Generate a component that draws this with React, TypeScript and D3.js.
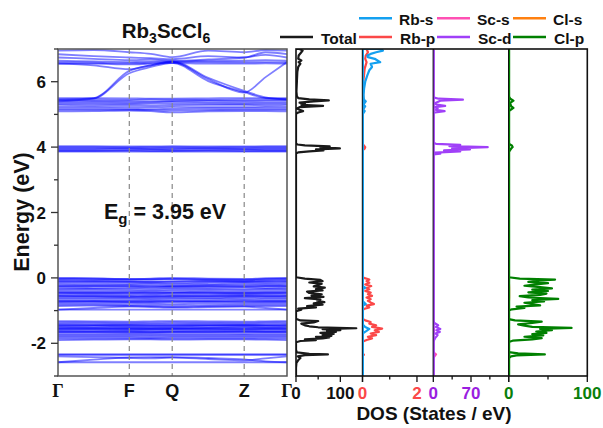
import React from 'react';
import * as d3 from 'd3';

// ---------- DATA ----------
const kPath = [0, 0.356, 0.713, 0.928, 1.142, 1.502, 1.862, 2.076, 2.29];
const kNodes = [0, 0.713, 1.142, 1.862, 2.29];
const kLabels = ['Γ', 'F', 'Q', 'Z', 'Γ'];

const upperBands: number[][] = [
  [6.95, 6.97, 6.9, 6.85, 6.75, 6.95, 6.9, 6.97, 6.95],
  [6.84, 6.78, 6.74, 6.72, 6.69, 6.78, 6.74, 6.9, 6.84],
  [6.74, 6.7, 6.66, 6.68, 6.64, 6.68, 6.74, 6.82, 6.74],
  [6.64, 6.62, 6.6, 6.62, 6.62, 6.64, 6.64, 6.66, 6.64],
  [6.59, 6.58, 6.56, 6.58, 6.6, 6.6, 6.59, 6.6, 6.59],
  [6.55, 6.55, 6.53, 6.55, 6.57, 6.55, 6.55, 6.56, 6.55],
  [5.45, 5.5, 6.33, 6.5, 6.6, 6.08, 5.67, 6.14, 6.6],
  [5.40, 5.48, 6.26, 6.45, 6.58, 6.02, 5.68, 5.5, 5.47],
  [6.55, 6.5, 6.38, 6.5, 6.62, 6.12, 5.72, 5.52, 5.45],
  [5.50, 5.50, 5.49, 5.48, 5.48, 5.49, 5.50, 5.50, 5.50],
  [5.45, 5.45, 5.44, 5.46, 5.45, 5.44, 5.45, 5.45, 5.45],
  [5.42, 5.41, 5.40, 5.40, 5.41, 5.42, 5.41, 5.42, 5.42],
  [5.37, 5.37, 5.36, 5.37, 5.38, 5.37, 5.36, 5.37, 5.37],
  [5.33, 5.33, 5.32, 5.33, 5.33, 5.33, 5.32, 5.33, 5.33],
  [5.29, 5.28, 5.28, 5.27, 5.28, 5.29, 5.29, 5.28, 5.29],
  [5.23, 5.23, 5.22, 5.22, 5.23, 5.22, 5.22, 5.23, 5.23],
  [5.18, 5.18, 5.17, 5.16, 5.17, 5.18, 5.18, 5.18, 5.18],
  [5.14, 5.14, 5.14, 5.13, 5.12, 5.13, 5.14, 5.14, 5.14],
  [5.09, 5.10, 5.12, 5.10, 5.06, 5.09, 5.10, 5.10, 5.09],
];

const lowConductionBands: number[][] = [
  [4.03, 4.03, 4.02, 4.02, 4.03, 4.02, 4.02, 4.03, 4.03],
  [4.00, 4.00, 3.99, 4.00, 4.00, 3.99, 4.00, 4.00, 4.00],
  [3.97, 3.97, 3.97, 3.96, 3.97, 3.97, 3.96, 3.97, 3.97],
  [3.94, 3.94, 3.95, 3.94, 3.94, 3.95, 3.94, 3.94, 3.94],
  [3.91, 3.91, 3.91, 3.92, 3.91, 3.91, 3.92, 3.91, 3.91],
  [3.88, 3.88, 3.89, 3.88, 3.88, 3.89, 3.88, 3.88, 3.88],
  [3.86, 3.86, 3.86, 3.86, 3.86, 3.86, 3.86, 3.86, 3.86],
];

const topValenceBands: number[][] = [
  [0.00, -0.01, -0.03, -0.02, 0.00, -0.02, -0.03, -0.01, 0.00],
  [-0.02, -0.03, -0.04, -0.04, -0.03, -0.04, -0.05, -0.03, -0.02],
  [-0.04, -0.05, -0.06, -0.05, -0.04, -0.06, -0.07, -0.05, -0.04],
  [-0.08, -0.09, -0.10, -0.11, -0.10, -0.09, -0.10, -0.09, -0.08],
  [-0.10, -0.11, -0.12, -0.12, -0.12, -0.11, -0.12, -0.11, -0.10],
  [-0.13, -0.13, -0.14, -0.15, -0.16, -0.14, -0.13, -0.14, -0.13],
  [-0.17, -0.18, -0.19, -0.18, -0.20, -0.19, -0.17, -0.18, -0.17],
  [-0.21, -0.22, -0.22, -0.23, -0.24, -0.22, -0.21, -0.22, -0.21],
  [-0.25, -0.25, -0.25, -0.26, -0.26, -0.25, -0.25, -0.25, -0.25],
  [-0.26, -0.26, -0.27, -0.28, -0.27, -0.26, -0.27, -0.26, -0.26],
  [-0.30, -0.31, -0.31, -0.32, -0.31, -0.30, -0.30, -0.31, -0.30],
  [-0.34, -0.34, -0.35, -0.36, -0.35, -0.34, -0.35, -0.34, -0.34],
  [-0.38, -0.38, -0.39, -0.40, -0.39, -0.38, -0.38, -0.38, -0.38],
  [-0.42, -0.43, -0.43, -0.44, -0.44, -0.42, -0.43, -0.43, -0.42],
  [-0.45, -0.45, -0.46, -0.46, -0.45, -0.45, -0.46, -0.45, -0.45],
  [-0.46, -0.47, -0.47, -0.48, -0.47, -0.46, -0.47, -0.47, -0.46],
  [-0.50, -0.50, -0.51, -0.52, -0.51, -0.50, -0.50, -0.50, -0.50],
  [-0.54, -0.54, -0.55, -0.56, -0.55, -0.54, -0.53, -0.54, -0.54],
  [-0.55, -0.56, -0.57, -0.57, -0.56, -0.56, -0.55, -0.56, -0.55],
  [-0.58, -0.58, -0.59, -0.60, -0.59, -0.58, -0.57, -0.58, -0.58],
  [-0.62, -0.62, -0.62, -0.63, -0.62, -0.62, -0.60, -0.62, -0.62],
  [-0.66, -0.66, -0.66, -0.67, -0.66, -0.65, -0.65, -0.66, -0.66],
  [-0.70, -0.70, -0.70, -0.71, -0.70, -0.70, -0.69, -0.70, -0.70],
  [-0.72, -0.72, -0.73, -0.73, -0.72, -0.72, -0.71, -0.72, -0.72],
  [-0.74, -0.73, -0.74, -0.75, -0.74, -0.73, -0.74, -0.74, -0.74],
  [-0.78, -0.78, -0.78, -0.79, -0.80, -0.78, -0.78, -0.78, -0.78],
  [-0.82, -0.82, -0.83, -0.84, -0.85, -0.83, -0.82, -0.82, -0.82],
  [-0.86, -0.85, -0.86, -0.87, -0.89, -0.87, -0.86, -0.86, -0.86],
  [-0.97, -0.92, -0.88, -0.89, -0.91, -0.89, -0.88, -0.92, -0.97],
  [-0.97, -0.97, -0.97, -0.97, -0.97, -0.97, -0.97, -0.97, -0.97],
];

const midValenceBands: number[][] = [
  [-1.32, -1.33, -1.34, -1.33, -1.32, -1.33, -1.34, -1.33, -1.32],
  [-1.36, -1.36, -1.37, -1.37, -1.36, -1.37, -1.37, -1.36, -1.36],
  [-1.40, -1.40, -1.41, -1.41, -1.40, -1.40, -1.41, -1.40, -1.40],
  [-1.43, -1.44, -1.44, -1.45, -1.44, -1.44, -1.44, -1.44, -1.43],
  [-1.45, -1.45, -1.46, -1.46, -1.46, -1.45, -1.45, -1.46, -1.45],
  [-1.47, -1.47, -1.48, -1.48, -1.48, -1.47, -1.47, -1.47, -1.47],
  [-1.50, -1.51, -1.51, -1.52, -1.51, -1.51, -1.50, -1.51, -1.50],
  [-1.53, -1.53, -1.54, -1.54, -1.54, -1.53, -1.53, -1.53, -1.53],
  [-1.55, -1.55, -1.55, -1.56, -1.55, -1.55, -1.56, -1.55, -1.55],
  [-1.56, -1.56, -1.57, -1.57, -1.56, -1.56, -1.57, -1.56, -1.56],
  [-1.59, -1.59, -1.60, -1.60, -1.59, -1.59, -1.60, -1.59, -1.59],
  [-1.62, -1.63, -1.63, -1.64, -1.63, -1.62, -1.63, -1.63, -1.62],
  [-1.65, -1.65, -1.65, -1.66, -1.65, -1.65, -1.65, -1.65, -1.65],
  [-1.66, -1.66, -1.67, -1.67, -1.66, -1.66, -1.66, -1.66, -1.66],
  [-1.70, -1.70, -1.70, -1.71, -1.70, -1.70, -1.71, -1.70, -1.70],
  [-1.74, -1.74, -1.74, -1.75, -1.74, -1.74, -1.74, -1.74, -1.74],
  [-1.78, -1.78, -1.78, -1.79, -1.78, -1.78, -1.78, -1.78, -1.78],
  [-1.82, -1.82, -1.82, -1.83, -1.82, -1.82, -1.82, -1.82, -1.82],
  [-1.86, -1.86, -1.86, -1.86, -1.86, -1.86, -1.86, -1.86, -1.86],
  [-1.90, -1.89, -1.88, -1.88, -1.89, -1.88, -1.88, -1.89, -1.90],
];

const lowValenceBands: number[][] = [
  [-2.34, -2.34, -2.34, -2.34, -2.34, -2.34, -2.34, -2.34, -2.34],
  [-2.35, -2.35, -2.35, -2.35, -2.35, -2.35, -2.35, -2.35, -2.35],
  [-2.58, -2.50, -2.43, -2.42, -2.42, -2.45, -2.49, -2.55, -2.58],
  [-2.40, -2.42, -2.45, -2.46, -2.44, -2.48, -2.52, -2.46, -2.40],
  [-2.58, -2.58, -2.58, -2.58, -2.58, -2.58, -2.58, -2.58, -2.58],
];

const energyTicks = [-3, -2, -1, 0, 1, 2, 3, 4, 5, 6, 7];
const energyLabels = [-2, 0, 2, 4, 6];

// DOS series: [energy (eV), DOS]
const dosTotal: [number, number][] = [
  [-2.75, 0], [-2.6, 1], [-2.5, 6], [-2.45, 10], [-2.4, 4], [-2.36, 20], [-2.34, 72], [-2.32, 30], [-2.28, 2], [-2.2, 0],
  [-1.97, 0], [-1.93, 10], [-1.9, 45], [-1.88, 20], [-1.85, 60], [-1.82, 75], [-1.8, 45], [-1.77, 80], [-1.74, 60],
  [-1.71, 85], [-1.68, 55], [-1.65, 90], [-1.62, 70], [-1.6, 100], [-1.57, 60], [-1.54, 136], [-1.51, 50], [-1.48, 30],
  [-1.45, 20], [-1.4, 12], [-1.36, 40], [-1.32, 50], [-1.3, 10], [-1.25, 0],
  [-1.02, 0], [-0.97, 12], [-0.94, 5], [-0.9, 45], [-0.86, 25], [-0.82, 60], [-0.78, 40], [-0.74, 64], [-0.7, 48],
  [-0.66, 55], [-0.62, 20], [-0.58, 62], [-0.54, 35], [-0.5, 58], [-0.46, 30], [-0.42, 25], [-0.38, 60], [-0.34, 45],
  [-0.3, 65], [-0.26, 40], [-0.22, 50], [-0.18, 58], [-0.14, 30], [-0.1, 60], [-0.06, 55], [-0.02, 20], [0.02, 0],
  [3.8, 0], [3.84, 5], [3.87, 30], [3.9, 62], [3.93, 45], [3.96, 99], [3.99, 55], [4.02, 76], [4.05, 20], [4.08, 3], [4.12, 0],
  [5.02, 0], [5.06, 5], [5.1, 16], [5.14, 8], [5.18, 2], [5.22, 8], [5.26, 61], [5.29, 12], [5.33, 20], [5.36, 8],
  [5.4, 40], [5.43, 74], [5.46, 30], [5.5, 5], [5.55, 2], [5.7, 1], [6.0, 2], [6.3, 3], [6.45, 5], [6.55, 10],
  [6.6, 6], [6.65, 12], [6.7, 5], [6.8, 6], [6.9, 12], [6.95, 15], [7.0, 8],
];
const dosRbS: [number, number][] = [
  [-1.7, 0], [-1.62, 0.15], [-1.56, 0.25], [-1.5, 0.1], [-1.42, 0],
  [-0.85, 0], [-0.8, 0.12], [-0.75, 0.05], [-0.7, 0], [-0.35, 0], [-0.3, 0.1], [-0.25, 0],
  [5.0, 0], [5.1, 0.08], [5.15, 0.02], [5.25, 0.1], [5.3, 0.03], [5.4, 0.12], [5.45, 0.05], [5.6, 0.04], [5.8, 0.06],
  [6.0, 0.1], [6.2, 0.18], [6.35, 0.25], [6.45, 0.35], [6.55, 0.3], [6.6, 0.65], [6.65, 0.55], [6.7, 0.45],
  [6.75, 0.2], [6.8, 0.18], [6.85, 0.3], [6.9, 0.5], [6.95, 0.75], [7.0, 0.7],
];
const dosRbP: [number, number][] = [
  [-2.4, 0], [-2.35, 0.05], [-2.3, 0],
  [-1.95, 0], [-1.9, 0.15], [-1.85, 0.35], [-1.8, 0.2], [-1.75, 0.5], [-1.7, 0.3], [-1.65, 0.6], [-1.6, 0.45],
  [-1.55, 0.72], [-1.5, 0.35], [-1.45, 0.5], [-1.4, 0.25], [-1.35, 0.3], [-1.3, 0.1], [-1.25, 0],
  [-1.0, 0], [-0.95, 0.05], [-0.9, 0.25], [-0.85, 0.15], [-0.8, 0.42], [-0.75, 0.3], [-0.7, 0.2], [-0.65, 0.3],
  [-0.6, 0.15], [-0.55, 0.35], [-0.5, 0.2], [-0.45, 0.3], [-0.4, 0.1], [-0.35, 0.25], [-0.3, 0.15], [-0.25, 0.32],
  [-0.2, 0.1], [-0.15, 0.25], [-0.1, 0.15], [-0.05, 0.25], [0, 0.05], [0.05, 0],
  [3.9, 0], [3.95, 0.08], [4.0, 0.1], [4.05, 0.05], [4.1, 0],
  [5.1, 0], [5.2, 0.06], [5.3, 0.04], [5.4, 0.08], [5.5, 0.02], [6.0, 0.03], [6.4, 0.08], [6.6, 0.15],
  [6.7, 0.1], [6.8, 0.12], [6.9, 0.2], [7.0, 0.15],
];
const dosScS: [number, number][] = [
  [-2.45, 0], [-2.38, 3], [-2.34, 5], [-2.3, 2], [-2.25, 0],
  [-1.7, 0], [-1.6, 2], [-1.5, 0],
];
const dosScD: [number, number][] = [
  [-1.95, 0], [-1.85, 3], [-1.75, 8], [-1.7, 4], [-1.65, 12], [-1.6, 6], [-1.56, 13], [-1.5, 5], [-1.45, 9], [-1.38, 2], [-1.3, 0],
  [3.78, 0], [3.8, 13], [3.83, 3], [3.87, 50], [3.9, 20], [3.93, 68], [3.96, 35], [4.0, 101], [4.03, 30], [4.07, 50], [4.1, 5], [4.13, 0],
  [5.05, 0], [5.1, 21], [5.14, 5], [5.18, 8], [5.22, 3], [5.26, 22], [5.3, 6], [5.34, 3], [5.38, 8], [5.42, 13], [5.45, 55], [5.48, 10], [5.52, 0],
];
const dosClS: [number, number][] = [
  [-2.4, 0], [-2.35, 0.6], [-2.3, 0],
  [-0.9, 0], [-0.6, 0.5], [-0.3, 0.5], [0, 0],
];
const dosClP: [number, number][] = [
  [-2.45, 0], [-2.4, 3], [-2.37, 10], [-2.34, 46], [-2.31, 12], [-2.27, 0],
  [-1.96, 0], [-1.92, 5], [-1.88, 30], [-1.84, 42], [-1.8, 20], [-1.76, 44], [-1.72, 30], [-1.68, 48], [-1.64, 35],
  [-1.6, 55], [-1.56, 40], [-1.53, 80], [-1.5, 30], [-1.46, 20], [-1.42, 12], [-1.38, 30], [-1.34, 42], [-1.3, 8], [-1.26, 0],
  [-1.0, 0], [-0.96, 4], [-0.92, 20], [-0.88, 10], [-0.84, 40], [-0.8, 30], [-0.76, 20], [-0.72, 45], [-0.68, 30],
  [-0.64, 63], [-0.6, 25], [-0.56, 14], [-0.52, 40], [-0.48, 48], [-0.44, 25], [-0.4, 50], [-0.36, 30], [-0.32, 55],
  [-0.28, 40], [-0.24, 20], [-0.2, 35], [-0.16, 50], [-0.12, 25], [-0.08, 40], [-0.05, 59], [-0.02, 14], [0.02, 0],
  [3.85, 0], [3.95, 3], [4.0, 5], [4.05, 4], [4.1, 0],
  [5.1, 0], [5.15, 3], [5.2, 6], [5.25, 3], [5.35, 2], [5.42, 6], [5.48, 2], [5.55, 0],
];

const totalTicks = [0, 50, 100, 150];
const totalLabels = [0, 100];
const rbTicks = [0, 1, 2];
const rbLabels = [0, 2];
const scTicks = [0, 35, 70, 105, 140];
const scLabels = [0, 70];
const clTicks = [0, 50, 100];
const clLabels = [0, 100];

// ---------- STYLE ----------
const FONT = '"Liberation Sans", Arial, Helvetica, sans-serif';
const C = {
  total: '#1a1a1a',
  rbs: '#14a0f0',
  rbp: '#fb4848',
  scs: '#ff50b4',
  scd: '#a040f8',
  cls: '#ff8010',
  clp: '#008000',
  scLabel: '#9a1ee0',
  clLabel: '#0a7f0a',
};

export default function App() {
  const top = 49;
  const bottom = 376;
  const yE = d3.scaleLinear().domain([-3, 7]).range([bottom, top]);
  const bx0 = 58;
  const bx1 = 287;
  const xK = d3.scaleLinear().domain([0, 2.29]).range([bx0, bx1]);

  const bandLine = d3
    .line<number>()
    .x((_, i) => xK(kPath[i]))
    .y((d) => yE(d))
    .curve(d3.curveMonotoneX);

  const allBands = [...upperBands, ...lowConductionBands, ...topValenceBands, ...midValenceBands, ...lowValenceBands];

  const panels = [
    { key: 'tot', x0: 296, x1: 362.5, domain: [0, 150], ticks: totalTicks, labels: totalLabels, labelColor: '#111',
      series: [{ d: dosTotal, c: C.total }] },
    { key: 'rb', x0: 362.5, x1: 433.3, domain: [0, 2.6], ticks: rbTicks, labels: rbLabels, labelColor: C.rbp,
      series: [{ d: dosRbP, c: C.rbp }, { d: dosRbS, c: C.rbs }] },
    { key: 'sc', x0: 433.3, x1: 508.7, domain: [0, 140], ticks: scTicks, labels: scLabels, labelColor: C.scLabel,
      series: [{ d: dosScS, c: C.scs }, { d: dosScD, c: C.scd }] },
    { key: 'cl', x0: 508.7, x1: 587.3, domain: [0, 100], ticks: clTicks, labels: clLabels, labelColor: C.clLabel,
      series: [{ d: dosClS, c: C.cls }, { d: dosClP, c: C.clp }] },
  ];

  const legendRow1 = [
    { name: 'Rb-s', c: C.rbs, x: 359 },
    { name: 'Sc-s', c: C.scs, x: 437 },
    { name: 'Cl-s', c: C.cls, x: 513 },
  ];
  const legendRow2 = [
    { name: 'Total', c: C.total, x: 280 },
    { name: 'Rb-p', c: C.rbp, x: 359 },
    { name: 'Sc-d', c: C.scd, x: 437 },
    { name: 'Cl-p', c: C.clp, x: 513 },
  ];

  return (
    <svg width={603} height={428} style={{ position: 'absolute', left: 0, top: 0, background: '#fff' }}
      fontFamily={FONT} fontWeight="bold">
      <defs>
        <clipPath id="bandClip">
          <rect x={bx0} y={top} width={bx1 - bx0} height={bottom - top} />
        </clipPath>
        {panels.map((p) => (
          <clipPath id={`clip-${p.key}`} key={p.key}>
            <rect x={p.x0} y={top} width={p.x1 - p.x0} height={bottom - top} />
          </clipPath>
        ))}
      </defs>

      {/* Title */}
      <text x={166} y={38} fontSize={20.5} textAnchor="middle" fill="#111">
        Rb<tspan fontSize={14} dy={5}>3</tspan>
        <tspan dy={-5}>ScCl</tspan>
        <tspan fontSize={14} dy={5}>6</tspan>
      </text>

      {/* Band panel */}
      <g clipPath="url(#bandClip)">
        {allBands.map((b, i) => (
          <path key={i} d={bandLine(b) || ''} fill="none" stroke="#0000ff" strokeOpacity={0.5} strokeWidth={1.8} />
        ))}
      </g>
      {kNodes.slice(1, -1).map((k, i) => (
        <line key={i} x1={xK(k)} x2={xK(k)} y1={top} y2={bottom} stroke="#888" strokeWidth={1.2} strokeDasharray="5,4" />
      ))}
      <rect x={bx0} y={top} width={bx1 - bx0} height={bottom - top} fill="none" stroke="#555" strokeWidth={1.5} />
      {energyTicks.map((e) => {
        const major = energyLabels.includes(e);
        return (
          <line key={e} x1={bx0} x2={bx0 - (major ? 7 : 4)} y1={yE(e)} y2={yE(e)} stroke="#333" strokeWidth={1.3} />
        );
      })}
      {energyLabels.map((e) => (
        <text key={e} x={46} y={yE(e) + 6} fontSize={17} textAnchor="end" fill="#111">
          {e}
        </text>
      ))}
      <text transform={`translate(29,212) rotate(-90)`} fontSize={21.5} textAnchor="middle" fill="#111">
        Energy (eV)
      </text>
      {kNodes.map((k, i) => (
        <text key={i} x={xK(k)} y={397} fontSize={18} textAnchor="middle" fill="#111"
          fontFamily={kLabels[i] === 'Γ' ? '"Liberation Serif", "Times New Roman", serif' : FONT}>
          {kLabels[i]}
        </text>
      ))}
      <text x={104} y={219} fontSize={21.5} fill="#111">
        E<tspan fontSize={15} dy={5}>g</tspan>
        <tspan dy={-5}> = 3.95 eV</tspan>
      </text>

      {/* DOS panels */}
      {panels.map((p) => {
        const xs = d3.scaleLinear().domain(p.domain).range([p.x0, p.x1]);
        const line = d3
          .line<[number, number]>()
          .x((d) => xs(d[1]))
          .y((d) => yE(d[0]));
        return (
          <g key={p.key}>
            <g clipPath={`url(#clip-${p.key})`}>
              {p.series.map((s, i) => (
                <path key={i} d={line([[-3, 0], ...s.d, [7, 0]]) || ''} fill="none" stroke={s.c}
                  strokeWidth={2.2} strokeLinejoin="round" />
              ))}
            </g>
            {p.ticks.map((t) => {
              const major = p.labels.includes(t) || t === p.domain[1];
              return (
                <line key={t} x1={xs(t)} x2={xs(t)} y1={bottom} y2={bottom + (major ? 6 : 3.5)} stroke="#111" strokeWidth={1.3} />
              );
            })}
            {p.labels.map((t) => (
              <text key={t} x={xs(t)} y={399} fontSize={17} textAnchor="middle" fill={p.labelColor}>
                {t}
              </text>
            ))}
          </g>
        );
      })}
      {/* DOS frames */}
      <rect x={296} y={top} width={587.3 - 296} height={bottom - top} fill="none" stroke="#111" strokeWidth={1.6} />
      {panels.slice(1).map((p) => (
        <line key={p.key} x1={p.x0} x2={p.x0} y1={top} y2={bottom} stroke="#111" strokeWidth={1.4} />
      ))}
      {panels.slice(1).map((p) => (
        <line key={'b' + p.key} x1={p.x0 + 0.9} x2={p.x0 + 0.9} y1={top + 1} y2={bottom - 1}
          stroke={p.series[p.series.length - 1].c} strokeWidth={1.2} />
      ))}
      <text x={434} y={420} fontSize={19} textAnchor="middle" fill="#111">
        DOS (States / eV)
      </text>

      {/* Legend */}
      {legendRow1.map((l) => (
        <g key={l.name}>
          <line x1={l.x} x2={l.x + 33} y1={18.3} y2={18.3} stroke={l.c} strokeWidth={2.5} />
          <text x={l.x + 40} y={25} fontSize={15.5} fill="#111">{l.name}</text>
        </g>
      ))}
      {legendRow2.map((l) => (
        <g key={l.name}>
          <line x1={l.x} x2={l.x + 33} y1={37} y2={37} stroke={l.c} strokeWidth={2.5} />
          <text x={l.x + 41} y={43.5} fontSize={15.5} fill="#111">{l.name}</text>
        </g>
      ))}
    </svg>
  );
}
